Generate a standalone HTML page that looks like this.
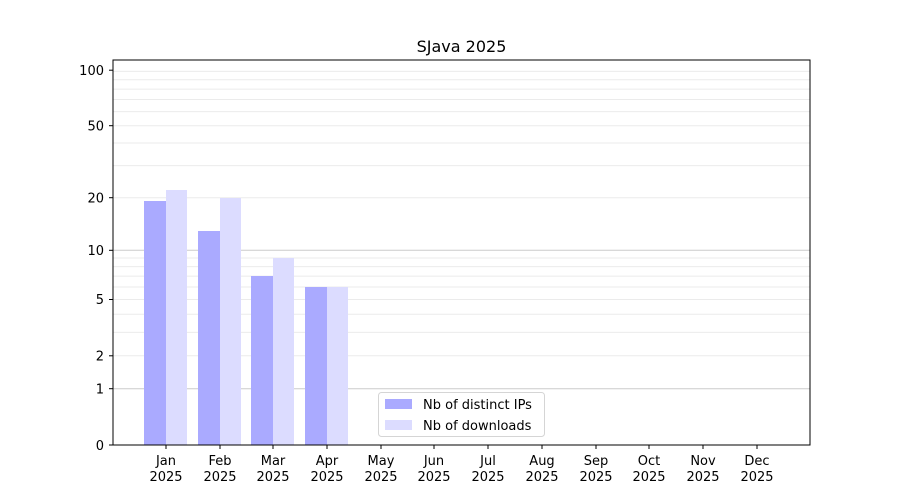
<!DOCTYPE html>
<html><head><style>body{margin:0;background:#fff}svg{display:block}text{font-family:"DejaVu Sans","Liberation Sans",sans-serif;fill:#000}</style></head>
<body>
<svg width="900" height="500" viewBox="0 0 900 500" xmlns="http://www.w3.org/2000/svg">
<rect width="900" height="500" fill="#fff"/>
<g stroke="#ebebeb" stroke-width="1">
<line x1="113" x2="810" y1="355.8" y2="355.8"/>
<line x1="113" x2="810" y1="332.4" y2="332.4"/>
<line x1="113" x2="810" y1="314.3" y2="314.3"/>
<line x1="113" x2="810" y1="299.5" y2="299.5"/>
<line x1="113" x2="810" y1="287" y2="287"/>
<line x1="113" x2="810" y1="276.1" y2="276.1"/>
<line x1="113" x2="810" y1="266.6" y2="266.6"/>
<line x1="113" x2="810" y1="258" y2="258"/>
<line x1="113" x2="810" y1="197.7" y2="197.7"/>
<line x1="113" x2="810" y1="165.6" y2="165.6"/>
<line x1="113" x2="810" y1="143" y2="143"/>
<line x1="113" x2="810" y1="125.7" y2="125.7"/>
<line x1="113" x2="810" y1="111.6" y2="111.6"/>
<line x1="113" x2="810" y1="99.5" y2="99.5"/>
<line x1="113" x2="810" y1="89.1" y2="89.1"/>
<line x1="113" x2="810" y1="79.7" y2="79.7"/>
<line x1="113" x2="810" y1="71.4" y2="71.4"/>
</g>
<g stroke="#cccccc" stroke-width="1">
<line x1="113" x2="810" y1="388.7" y2="388.7"/>
<line x1="113" x2="810" y1="250.3" y2="250.3"/>
</g>
<g fill="#aaaaff">
<rect x="144" y="201" width="22" height="244"/>
<rect x="198" y="231" width="22" height="214"/>
<rect x="251" y="276" width="22" height="169"/>
<rect x="305" y="287" width="22" height="158"/>
</g>
<g fill="#dcdcff">
<rect x="166" y="190" width="21" height="255"/>
<rect x="220" y="198" width="21" height="247"/>
<rect x="273" y="258" width="21" height="187"/>
<rect x="327" y="287" width="21" height="158"/>
</g>
<rect x="113" y="60" width="697" height="385" fill="none" stroke="#000" stroke-width="1"/>
<g stroke="#000">
<line x1="109" x2="113" y1="445" y2="445"/><line x1="109" x2="113" y1="388.7" y2="388.7"/>
<line x1="109" x2="113" y1="355.8" y2="355.8"/><line x1="109" x2="113" y1="299.5" y2="299.5"/>
<line x1="109" x2="113" y1="250.3" y2="250.3"/><line x1="109" x2="113" y1="197.7" y2="197.7"/>
<line x1="109" x2="113" y1="125.7" y2="125.7"/><line x1="109" x2="113" y1="70.2" y2="70.2"/>
</g>
<g font-size="13" text-anchor="end">
<text x="104" y="450">0</text><text x="104" y="393.5">1</text><text x="104" y="360.5">2</text>
<text x="104" y="304">5</text><text x="104" y="255">10</text><text x="104" y="202.5">20</text>
<text x="104" y="130.5">50</text><text x="104" y="75">100</text>
</g>
<g font-size="13" text-anchor="middle">
<g stroke="#000">
<line x1="166" x2="166" y1="445" y2="449"/><line x1="220" x2="220" y1="445" y2="449"/>
<line x1="273" x2="273" y1="445" y2="449"/><line x1="327" x2="327" y1="445" y2="449"/>
<line x1="381" x2="381" y1="445" y2="449"/><line x1="434" x2="434" y1="445" y2="449"/>
<line x1="488" x2="488" y1="445" y2="449"/><line x1="542" x2="542" y1="445" y2="449"/>
<line x1="596" x2="596" y1="445" y2="449"/><line x1="649" x2="649" y1="445" y2="449"/>
<line x1="703" x2="703" y1="445" y2="449"/><line x1="757" x2="757" y1="445" y2="449"/>
</g>
<text x="166" y="465">Jan</text><text x="166" y="481">2025</text>
<text x="220" y="465">Feb</text><text x="220" y="481">2025</text>
<text x="273" y="465">Mar</text><text x="273" y="481">2025</text>
<text x="327" y="465">Apr</text><text x="327" y="481">2025</text>
<text x="381" y="465">May</text><text x="381" y="481">2025</text>
<text x="434" y="465">Jun</text><text x="434" y="481">2025</text>
<text x="488" y="465">Jul</text><text x="488" y="481">2025</text>
<text x="542" y="465">Aug</text><text x="542" y="481">2025</text>
<text x="596" y="465">Sep</text><text x="596" y="481">2025</text>
<text x="649" y="465">Oct</text><text x="649" y="481">2025</text>
<text x="703" y="465">Nov</text><text x="703" y="481">2025</text>
<text x="757" y="465">Dec</text><text x="757" y="481">2025</text>
</g>
<text x="461.5" y="52" font-size="16" text-anchor="middle">SJava 2025</text>
<rect x="378.5" y="392.5" width="166" height="44" rx="3" fill="#fff" fill-opacity="0.8" stroke="#d5d5d5"/>
<rect x="385" y="399" width="27" height="10" fill="#aaaaff"/>
<rect x="385" y="420" width="27" height="10" fill="#dcdcff"/>
<text x="423" y="409" font-size="13">Nb of distinct IPs</text>
<text x="423" y="430" font-size="13">Nb of downloads</text>
</svg>
</body></html>
